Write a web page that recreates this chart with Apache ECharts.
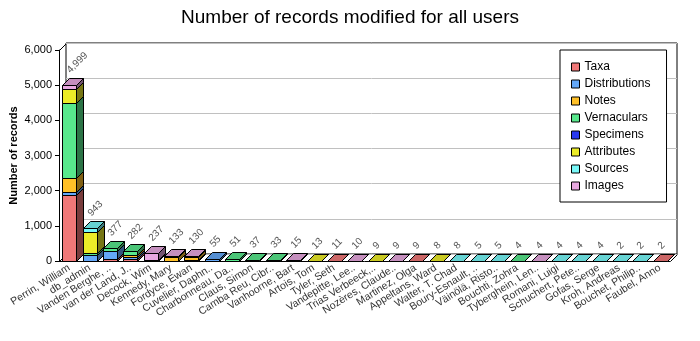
<!DOCTYPE html>
<html><head><meta charset="utf-8">
<script src="https://cdn.jsdelivr.net/npm/echarts@6/dist/echarts.min.js"></script>
<style>html,body{margin:0;padding:0;background:#fff}#c{width:700px;height:341px}</style>
</head><body><div id="c"></div><script>
const categories = ['Perrin, William','db_admin','Vanden Berghe, ..','van der Land, J..','Decock, Wim','Kennedy, Mary','Fordyce, Ewan','Cuvelier, Daphn..','Charbonneau, Da..','Claus, Simon','Camba Reu, Cibr..','Vanhoorne, Bart','Artois, Tom','Tyler, Seth','Vandepitte, Lee..','Trias Verbeeck,..','Nozères, Claude..','Martinez, Olga','Appeltans, Ward','Walter, T. Chad','Boury-Esnault, ..','Väinölä, Risto..','Bouchti, Zohra','Tyberghein, Len..','Romani, Luigi','Schuchert, Pete..','Gofas, Serge','Kroh, Andreas','Bouchet, Philip..','Faubel, Anno'];
const seriesNames = ['Taxa','Distributions','Notes','Vernaculars','Specimens','Attributes','Sources','Images'];
const taxa          = [1890,0,50,60,0,0,30,0,0,0,0,0,0,11,0,0,0,9,0,0,0,0,0,0,0,0,0,0,0,2];
const distributions = [70,170,240,40,0,0,0,55,0,0,0,0,0,0,0,0,0,0,0,0,0,0,0,0,0,0,0,0,0,0];
const notes         = [400,0,0,80,0,100,70,0,0,0,0,0,0,0,0,0,0,0,0,0,0,0,0,0,0,0,0,0,0,0];
const vernaculars   = [2140,50,87,102,0,0,0,0,51,37,33,0,0,0,0,0,0,0,0,0,0,0,4,0,0,0,0,0,0,0];
const specimens     = [0,15,0,0,27,0,0,0,0,0,0,0,0,0,0,0,0,0,0,0,0,0,0,0,0,0,0,0,0,0];
const attributes    = [380,590,0,0,0,0,0,0,0,0,0,0,13,0,0,9,0,0,8,0,0,0,0,0,0,0,0,0,0,0];
const sources       = [0,118,0,0,0,0,0,0,0,0,0,0,0,0,0,0,0,0,0,8,5,5,0,0,4,4,4,2,2,0];
const images        = [119,0,0,0,210,33,30,0,0,0,0,15,0,0,10,0,9,0,0,0,0,0,0,4,0,0,0,0,0,0];
const yTickValues = [0,1000,2000,3000,4000,5000,6000];

const valuesList = [taxa,distributions,notes,vernaculars,specimens,attributes,sources,images];
const colors = ['#F07878','#64A8F8','#FFC028','#58E88C','#2838F0','#ECEC28','#78F8F8','#E8A8E0'];
function shade(hex,f){
  const n=parseInt(hex.slice(1),16);
  const r=Math.round(((n>>16)&255)*f),g=Math.round(((n>>8)&255)*f),b=Math.round((n&255)*f);
  return 'rgb('+r+','+g+','+b+')';
}
const D = 7;
const FONT = '"Liberation Sans", Arial, sans-serif';
const totals = categories.map((_,i)=>valuesList.reduce((s,a)=>s+a[i],0));
const fmt = v => v.toLocaleString('en-US');

const series = valuesList.map((vals,si)=>({
  type:'custom', name:seriesNames[si], coordinateSystem:'cartesian2d',
  xAxisIndex:0, yAxisIndex:0, z:2,
  itemStyle:{color:colors[si]},
  encode:{x:0,y:1},
  data: vals.map((v,i)=>[i, valuesList.slice(0,si).reduce((s,a)=>s+a[i],0), v]).filter(d=>d[2]>0),
  renderItem:(params, api)=>{
    const i=api.value(0), b=api.value(1), v=api.value(2);
    const pb=api.coord([i,b]), pt=api.coord([i,b+v]);
    const band=api.size([1,0])[0];
    const w=Math.round(band*0.68);
    const x0=Math.round(pb[0]-w/2)+0.5, x1=x0+w;
    const yb=Math.round(pb[1])+0.5, yt=Math.round(pt[1])+0.5;
    const c=colors[si];
    const ls={stroke:'#000',lineWidth:1};
    return {type:'group',children:[
      {type:'polygon',shape:{points:[[x0,yb],[x1,yb],[x1,yt],[x0,yt]]},style:Object.assign({fill:c},ls)},
      {type:'polygon',shape:{points:[[x1,yb],[x1+D,yb-D],[x1+D,yt-D],[x1,yt]]},style:Object.assign({fill:shade(c,0.5)},ls)},
      {type:'polygon',shape:{points:[[x0,yt],[x1,yt],[x1+D,yt-D],[x0+D,yt-D]]},style:Object.assign({fill:shade(c,0.85)},ls)}
    ]};
  }
}));
series.push({
  type:'custom', name:'totals', coordinateSystem:'cartesian2d', xAxisIndex:0, yAxisIndex:0, z:3, silent:true,
  encode:{x:0,y:1},
  data: totals.map((t,i)=>[i,t]),
  renderItem:(params, api)=>{
    const p=api.coord([api.value(0),api.value(1)]);
    return {type:'text', x:Math.round(p[0])+3, y:Math.round(p[1])-D-3, rotation:Math.PI/4,
      style:{text:fmt(api.value(1)), fill:'#555', font:'10px '+FONT, align:'left', verticalAlign:'bottom'}};
  }
});

const chart = echarts.init(document.getElementById('c'), null, {renderer:'canvas'});
chart.setOption({
  animation:false,
  backgroundColor:'#fff',
  title:{text:'Number of records modified for all users', left:'center', top:3,
    textStyle:{fontSize:19, fontWeight:'normal', color:'#000', fontFamily:FONT}},
  legend:{data:seriesNames, orient:'vertical', left:560, top:50, icon:'rect', itemWidth:8, itemHeight:8, itemGap:5,
    padding:[11,16,10,11], borderColor:'#000', borderWidth:1, backgroundColor:'#fff',
    itemStyle:{borderColor:'#000',borderWidth:1},
    textStyle:{fontSize:12, color:'#000', fontFamily:FONT}, selectedMode:false, z:10},
  grid:[
    {left:59, right:30, top:50, bottom:80, outerBoundsMode:'none', containLabel:false},
    {left:66, right:23, top:43, bottom:87, outerBoundsMode:'none', containLabel:false, show:true, borderColor:'#000', borderWidth:1, backgroundColor:'transparent', z:0}
  ],
  xAxis:[
    {type:'category', gridIndex:0, data:categories,
      axisLine:{lineStyle:{color:'#000'}}, axisTick:{alignWithLabel:true, length:4, lineStyle:{color:'#000'}},
      axisLabel:{interval:0, rotate:32, fontSize:10.5, color:'#333', margin:6, fontFamily:FONT}},
    {type:'value', gridIndex:1, min:0, max:1, show:false}
  ],
  yAxis:[
    {type:'value', gridIndex:0, min:0, max:6000, interval:1000,
      name:'Number of records', nameLocation:'middle', nameGap:40, nameMoveOverlap:false,
      nameTextStyle:{fontSize:11, fontWeight:'bold', color:'#000', fontFamily:FONT},
      axisLine:{show:true, lineStyle:{color:'#000'}}, axisTick:{show:true, length:4, lineStyle:{color:'#000'}},
      splitLine:{show:false},
      axisLabel:{fontSize:11, color:'#000', margin:7, fontFamily:FONT,
        formatter:v=>yTickValues.includes(v)?fmt(v):''}},
    {type:'value', gridIndex:1, min:0, max:6000, interval:1000, z:1,
      axisLine:{show:false}, axisTick:{show:false}, axisLabel:{show:false},
      splitLine:{show:true, lineStyle:{color:'#c0c0c0', width:1}}}
  ],
  graphic:[
    {type:'line', z:1, shape:{x1:59.5,y1:50.5,x2:66.5,y2:43.5}, style:{stroke:'#000',lineWidth:1}},
    {type:'line', z:1, shape:{x1:59.5,y1:261.5,x2:66.5,y2:254.5}, style:{stroke:'#000',lineWidth:1}},
    {type:'line', z:1, shape:{x1:670.5,y1:261.5,x2:677.5,y2:254.5}, style:{stroke:'#000',lineWidth:1}}
  ],
  series: series
});
</script></body></html>
